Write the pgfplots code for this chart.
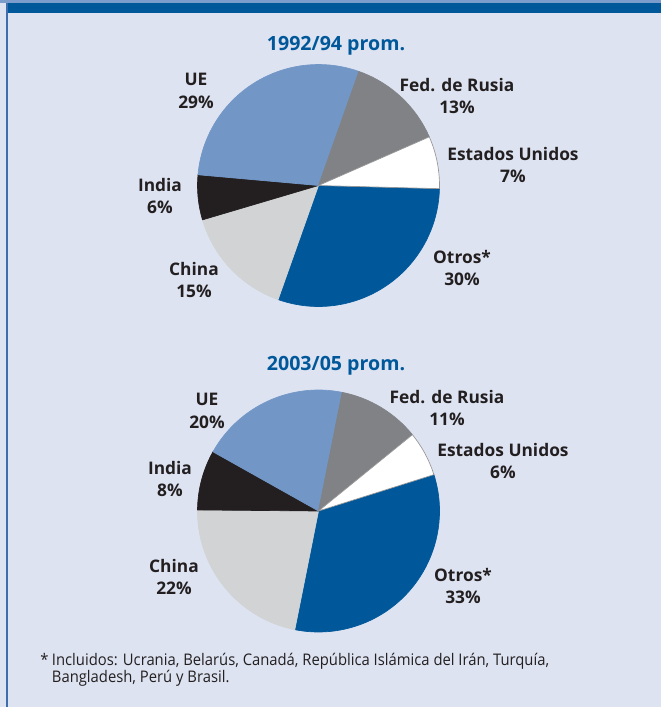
\documentclass[border=0pt]{standalone}
\usepackage{pgfplots}
\usepackage{pgfplotstable}
\pgfplotsset{compat=1.18}
\usepackage{fontspec}
\setmainfont{Open Sans}
\newfontfamily\footfont[FakeStretch=0.925]{Open Sans}

\definecolor{bg}{RGB}{221,227,241}
\definecolor{navy}{RGB}{0,88,154}
\definecolor{ue}{RGB}{114,151,199}
\definecolor{rusia}{RGB}{128,130,133}
\definecolor{china}{RGB}{209,211,212}
\definecolor{india}{RGB}{35,31,32}
\definecolor{otros}{RGB}{0,88,154}
\definecolor{txt}{RGB}{35,31,32}
\definecolor{stripe}{RGB}{124,157,203}
\definecolor{framec}{RGB}{61,109,170}
\definecolor{edgegray}{RGB}{150,150,150}

% cx, cy: pie centre (px), a0: angle where the first slice starts
% ci: 0 Otros, 1 China, 2 India, 3 UE, 4 Rusia, 5 EEUU
\pgfplotstableread{
cx    cy    a0   value ci
318.5 185.5 -1.5 30    0
318.5 185.5 -1.5 15    1
318.5 185.5 -1.5 6     2
318.5 185.5 -1.5 29    3
318.5 185.5 -1.5 13    4
318.5 185.5 -1.5 7     5
}\pieA
\pgfplotstableread{
cx    cy    a0   value ci
318.5 511.0 17.5 33    0
318.5 511.0 17.5 22    1
318.5 511.0 17.5 8     2
318.5 511.0 17.5 20    3
318.5 511.0 17.5 11    4
318.5 511.0 17.5 6     5
}\pieB
\pgfplotstablecreatecol[create col/expr accum={\pgfmathaccuma+\thisrow{value}}{0}]{cum}{\pieA}
\pgfplotstablecreatecol[create col/expr accum={\pgfmathaccuma+\thisrow{value}}{0}]{cum}{\pieB}

\pgfdeclareplotmark{blank}{}

\pgfplotsset{
  pie/.style={
    only marks, scatter, mark=blank,
    visualization depends on={\thisrow{value} \as \pv},
    visualization depends on={\thisrow{cum} \as \pc},
    visualization depends on={\thisrow{a0} \as \pa},
    visualization depends on={\thisrow{ci} \as \pci},
    scatter/@pre marker code/.code={%
      \pgfmathsetmacro\angA{\pa-3.6*(\pc-\pv)}%
      \pgfmathsetmacro\angB{\pa-3.6*\pc}%
      \pgfmathtruncatemacro\cidx{\pci}%
      \ifcase\cidx \def\pcol{otros}\def\pedge{otros}%
      \or \def\pcol{china}\def\pedge{china}%
      \or \def\pcol{india}\def\pedge{india}%
      \or \def\pcol{ue}\def\pedge{ue}%
      \or \def\pcol{rusia}\def\pedge{rusia}%
      \else \def\pcol{white}\def\pedge{edgegray}\fi
      \fill[fill=\pcol, draw=\pedge, line width=0.5pt, line join=round]
        (0,0) -- (\angA:90.75pt) arc[start angle=\angA, end angle=\angB, radius=90.75pt] -- cycle;
    },
    scatter/@post marker code/.code={},
  },
}
\tikzset{
  lab/.style={font=\fontsize{13}{17.2}\selectfont\bfseries, text=txt, align=center, inner sep=0pt},
  ttl/.style={font=\fontsize{14.7}{16}\selectfont\bfseries, text=navy, inner sep=0pt, anchor=base},
  foot/.style={font=\footfont\fontsize{12}{13.2}\selectfont, text=txt, anchor=base west, inner sep=0pt},
}

\begin{document}
\begin{tikzpicture}
\fill[bg] (0,0) rectangle (495.75pt,530.25pt);
\begin{axis}[
  scale only axis, width=495.75pt, height=530.25pt,
  xmin=0, xmax=661, ymin=0, ymax=707, y dir=reverse,
  hide axis, clip=false,
]
% frame
\fill[stripe] (axis cs:0,0) rectangle (axis cs:661,3);
\fill[navy] (axis cs:6,3) rectangle (axis cs:661,13);
\fill[framec] (axis cs:6,3) rectangle (axis cs:8,707);

\addplot[pie] table[x=cx, y=cy] {\pieA};
\addplot[pie] table[x=cx, y=cy] {\pieB};

% titles
\node[ttl] at (axis cs:336,50.7) {1992/94 prom.};
\node[ttl] at (axis cs:336,370.7) {2003/05 prom.};

% labels, first pie
\node[lab] at (axis cs:196,91) {UE\\29\%};
\node[lab] at (axis cs:160,196) {India\\6\%};
\node[lab] at (axis cs:194,280) {China\\15\%};
\node[lab] at (axis cs:457,96) {Fed. de Rusia\\13\%};
\node[lab] at (axis cs:513,165) {Estados Unidos\\7\%};
\node[lab] at (axis cs:462,268) {Otros*\\30\%};

% labels, second pie
\node[lab] at (axis cs:207,411) {UE\\20\%};
\node[lab] at (axis cs:170,479) {India\\8\%};
\node[lab] at (axis cs:174,577) {China\\22\%};
\node[lab] at (axis cs:447,408) {Fed. de Rusia\\11\%};
\node[lab] at (axis cs:503,461) {Estados Unidos\\6\%};
\node[lab] at (axis cs:463,586) {Otros*\\33\%};

% footnote
\node[foot] at (axis cs:40,665) {*};
\node[foot] at (axis cs:51.7,665) {Incluidos: Ucrania, Belarús, Canadá, República Islámica del Irán, Turquía,};
\node[foot] at (axis cs:51.7,682) {Bangladesh, Perú y Brasil.};
\end{axis}
\end{tikzpicture}
\end{document}
